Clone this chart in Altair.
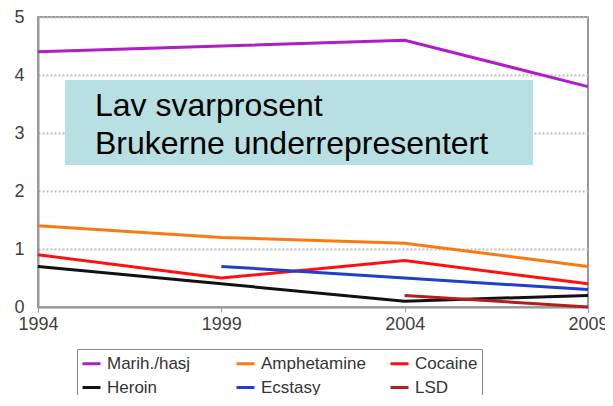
import altair as alt
import pandas as pd

years = [1994, 1999, 2004, 2009]
series_names = ["Marih./hasj", "Amphetamine", "Cocaine", "Heroin", "Ecstasy", "LSD"]
marih = [4.4, 4.5, 4.6, 3.8]
amphetamine = [1.4, 1.2, 1.1, 0.7]
cocaine = [0.9, 0.5, 0.8, 0.4]
heroin = [0.7, 0.4, 0.1, 0.2]
ecstasy = [None, 0.7, 0.5, 0.3]
lsd = [None, None, 0.2, 0.0]
colors = ["#B01CC8", "#FA7A12", "#FF1010", "#111111", "#1F3FCC", "#B01E1E"]

rows = []
for name, vals in zip(series_names, [marih, amphetamine, cocaine, heroin, ecstasy, lsd]):
    for y, v in zip(years, vals):
        if v is not None:
            rows.append({"year": y, "value": v, "series": name})
df = pd.DataFrame(rows)

FONT = "Liberation Sans"

lines = alt.Chart(df).mark_line(strokeWidth=3).encode(
    x=alt.X("year:Q", scale=alt.Scale(domain=[1994, 2009], nice=False, zero=False),
            axis=alt.Axis(values=years, format="d", title=None, grid=False,
                          labelFontSize=18, labelColor="#404040", labelFont=FONT,
                          domainColor="#999999", domainWidth=2, tickColor="#999999",
                          tickSize=5, labelPadding=3, labelFlush=False)),
    y=alt.Y("value:Q", scale=alt.Scale(domain=[0, 5], nice=False),
            axis=alt.Axis(values=[0, 1, 2, 3, 4, 5], title=None, grid=True,
                          gridDash=[2, 2], gridColor="#BBBBBB", gridWidth=2,
                          labelFontSize=18, labelColor="#404040", labelFont=FONT,
                          domainColor="#999999", domainWidth=2, ticks=False,
                          labelPadding=14)),
    color=alt.Color("series:N", scale=alt.Scale(domain=series_names, range=colors),
                    legend=alt.Legend(title=None, orient="none", legendX=39, legendY=332,
                                      direction="horizontal",
                                      columns=3, gridAlign="all", columnPadding=18,
                                      rowPadding=5, symbolType="stroke",
                                      symbolStrokeWidth=3, symbolSize=324,
                                      labelFontSize=17, labelFont=FONT,
                                      labelColor="#333333", labelOffset=5,
                                      strokeColor="#888888", padding=4,
                                      labelLimit=300)),
    detail="series:N",
)

box = alt.Chart(pd.DataFrame({"a": [0]})).mark_rect(color="#B8DFE1").encode(
    x=alt.value(27), x2=alt.value(495), y=alt.value(63), y2=alt.value(148)
)
t1 = alt.Chart(pd.DataFrame({"a": [0]})).mark_text(
    text="Lav svarprosent", align="left", baseline="alphabetic",
    fontSize=32, font=FONT, color="#000000"
).encode(x=alt.value(57), y=alt.value(99))
t2 = alt.Chart(pd.DataFrame({"a": [0]})).mark_text(
    text="Brukerne underrepresentert", align="left", baseline="alphabetic",
    fontSize=32, font=FONT, color="#000000"
).encode(x=alt.value(57), y=alt.value(137))

chart = alt.layer(lines, box, t1, t2).properties(
    width=550, height=290,
    autosize=alt.AutoSizeParams(type="none"),
    padding={"left": 30, "top": 9, "right": 17, "bottom": 88},
    background="white",
).configure_view(stroke="#999999", strokeWidth=2)

chart.save("out.html", embed_options={"renderer": "svg", "actions": False})
